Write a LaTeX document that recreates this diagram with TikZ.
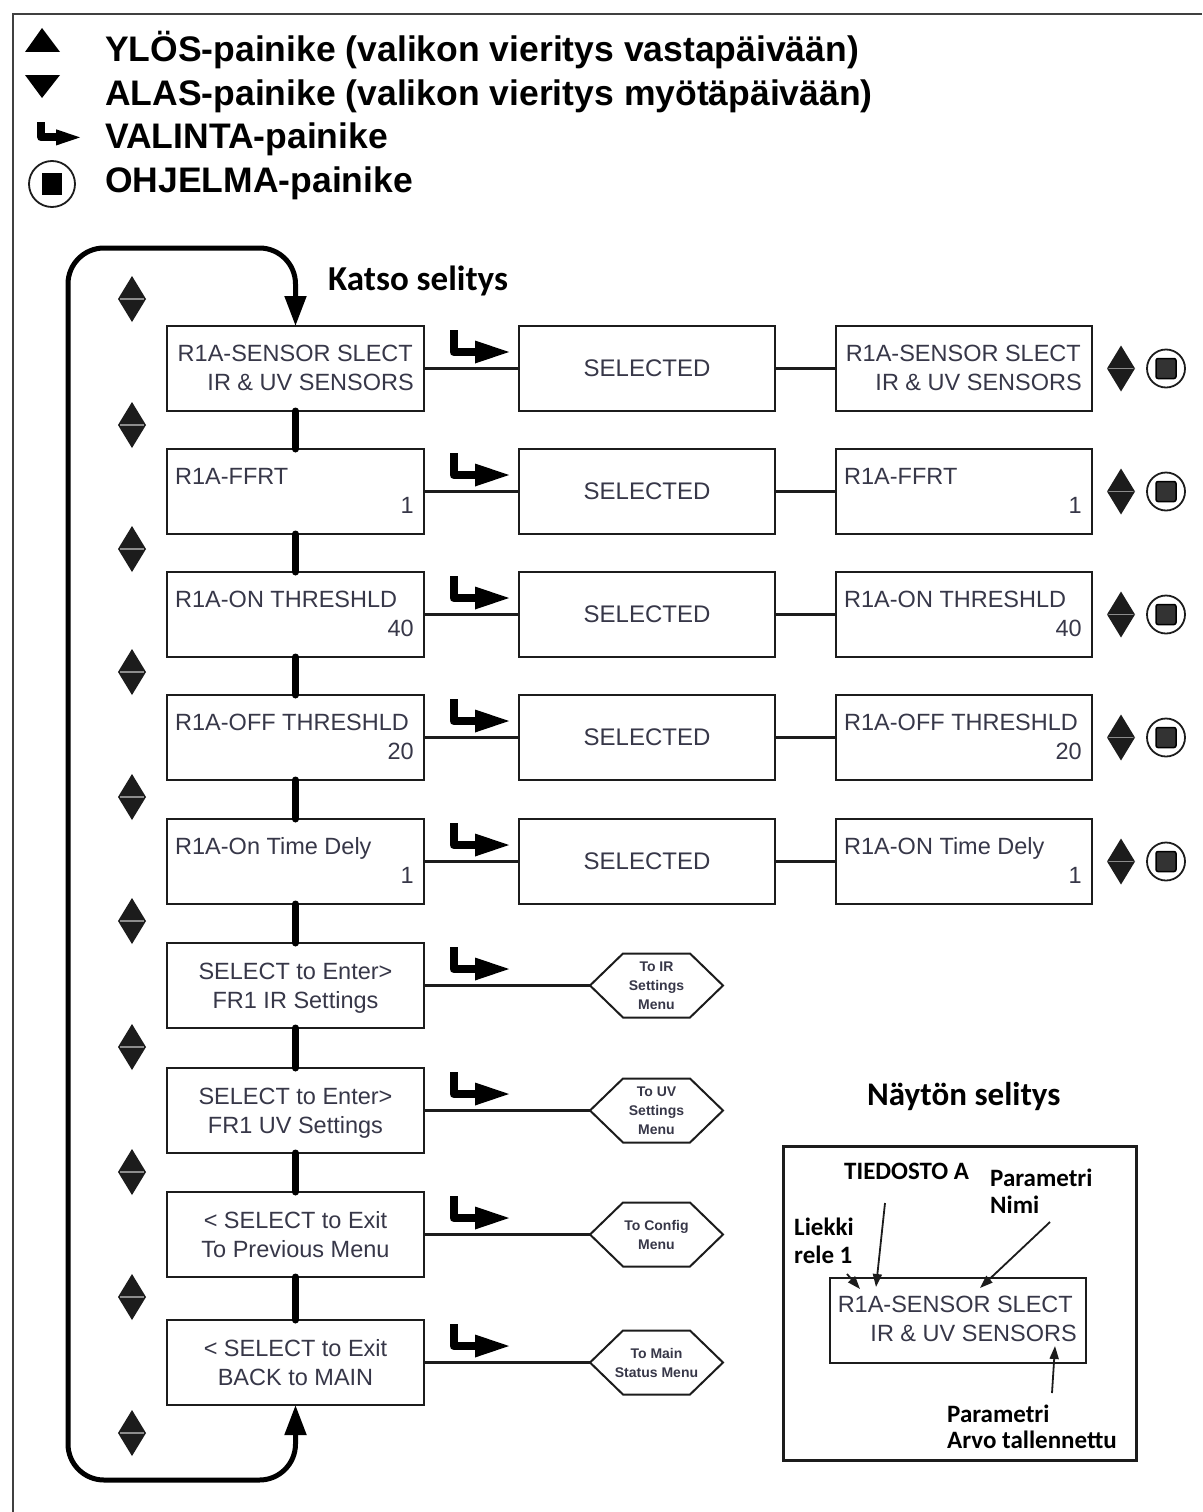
\documentclass[tikz,border=0pt]{standalone}
\usepackage{fontspec}
\setmainfont{Liberation Sans}
\newfontfamily\calib{Carlito}
\usetikzlibrary{arrows.meta,calc}
\definecolor{boxtxt}{RGB}{55,55,72}
\definecolor{ink}{RGB}{28,28,28}

\begin{document}
\begin{tikzpicture}[x=1pt,y=-1pt,
  menubox/.style={draw=ink, line width=2pt, minimum width=257pt, minimum height=85pt,
    inner sep=0pt, outer sep=0pt, anchor=north west},
  boxtext/.style={inner sep=0pt, text=boxtxt, font=\fontsize{23.5}{27}\selectfont},
  legtext/.style={inner sep=0pt, anchor=base west, font=\bfseries\fontsize{35.5}{40}\selectfont},
  note/.style={inner sep=0pt, anchor=base west, font=\calib\bfseries\fontsize{25}{27}\selectfont},
  hexnode/.style={minimum width=133pt, minimum height=64pt, inner sep=0pt, outer sep=0pt,
    align=center, text=boxtxt, font=\bfseries\fontsize{14}{19}\selectfont},
  hexline/.style={draw=ink, line width=2pt, line join=miter},
  hlink/.style={draw=ink, line width=2.5pt},
  vlink/.style={draw=black, line width=7pt, line cap=round},
  loopline/.style={draw=black, line width=5pt, rounded corners=36pt,
    {Triangle[length=30pt,width=21pt]}-{Triangle[length=30pt,width=21pt]}},
  notearrow/.style={draw=ink, line width=1.8pt, -{Triangle[length=13pt,width=9pt]}},
  selkey/.pic={
    \draw[black, line width=8pt, line join=round] (4.5,0) -- (4.5,22) -- (28,22);
    \fill[black] (26,10.5) -- (60,22) -- (26,33.5) -- cycle;
  },
  updown/.pic={
    \fill[ink] (-14,0) -- (0,-23) -- (14,0) -- cycle;
    \fill[ink] (-14,0) -- (0,23) -- (14,0) -- cycle;
    \draw[black!45, line width=1.2pt] (-12,0) -- (12,0);
  },
  progkey/.pic={
    \draw[ink, line width=1.8pt] (0,0) circle[radius=19pt];
    \draw[black, line width=1.5pt, fill=black!80, rounded corners=2pt] (-10,-10) rectangle (10,10);
  }
]
\useasboundingbox (0,0) rectangle (1202,1512);

% outer frame
\draw[line width=2.5pt, black!75] (13,1512) -- (13,14) -- (1202,14);

% key to the buttons
\fill[black] (25,52) -- (42,28) -- (60,52) -- cycle;
\fill[black] (25,75) -- (60,75) -- (42,98) -- cycle;
\pic[scale=0.7] at (38,122) {selkey};
\draw[ink, line width=1.8pt] (52,184) circle[radius=23pt];
\fill[black] (42,173) rectangle (62,195);
\node[legtext] (kup) at (105,62) {YLÖS-painike (valikon vieritys vastapäivään)};
\node[legtext] (kdown) at (105,105) {ALAS-painike (valikon vieritys myötäpäivään)};
\node[legtext] (ksel) at (105,148) {VALINTA-painike};
\node[legtext] (kprog) at (105,192) {OHJELMA-painike};

\node[anchor=base west, inner sep=0pt, font=\calib\bfseries\fontsize{35}{40}\selectfont] (seeleg) at (328,290) {Katso selitys};

% menu boxes, left column
\foreach \i/\t in {1/326,2/449,3/572,4/695,5/819,6/943,7/1068,8/1192,9/1320} {
  \node[menubox] (L\i) at (167,\t) {};
  \pic at (449,\t+4) {selkey};
}
% selected and stored boxes
\foreach \i/\t in {1/326,2/449,3/572,4/695,5/819} {
  \node[menubox, minimum width=256pt, text=boxtxt, font=\fontsize{24}{28}\selectfont] (M\i) at (519,\t) {SELECTED};
  \node[menubox, minimum width=256pt] (R\i) at (836,\t) {};
  \draw[hlink] (L\i.east) -- (M\i.west);
  \draw[hlink] (M\i.east) -- (R\i.west);
  \pic at ($(R\i.east)+(29,0)$) {updown};
  \pic at ($(R\i.east)+(74,0)$) {progkey};
}

% texts of the first row
\node[boxtext, anchor=base east] (L1a) at ($(L1.north east)+(-11,35)$) {R1A-SENSOR SLECT};
\node[boxtext, anchor=base east] (L1b) at ($(L1.north east)+(-10,64)$) {IR \& UV SENSORS};
\node[boxtext, anchor=base east] (R1a) at ($(R1.north east)+(-11,35)$) {R1A-SENSOR SLECT};
\node[boxtext, anchor=base east] (R1b) at ($(R1.north east)+(-10,64)$) {IR \& UV SENSORS};

% parameter rows
\foreach \i/\a/\c/\b in {2/{R1A-FFRT}/{R1A-FFRT}/1, 3/{R1A-ON THRESHLD}/{R1A-ON THRESHLD}/40,
    4/{R1A-OFF THRESHLD}/{R1A-OFF THRESHLD}/20, 5/{R1A-On Time Dely}/{R1A-ON Time Dely}/1} {
  \node[boxtext, anchor=base west] (L\i a) at ($(L\i.north west)+(8,35)$) {\a};
  \node[boxtext, anchor=base east] (L\i b) at ($(L\i.north east)+(-10,64)$) {\b};
  \node[boxtext, anchor=base west] (R\i a) at ($(R\i.north west)+(8,35)$) {\c};
  \node[boxtext, anchor=base east] (R\i b) at ($(R\i.north east)+(-10,64)$) {\b};
}

% sub-menu rows with their target hexagons
\foreach \i/\a/\b/\h in {6/{SELECT to Enter>}/{FR1 IR Settings}/{To IR\\Settings\\Menu},
    7/{SELECT to Enter>}/{FR1 UV Settings}/{To UV\\Settings\\Menu},
    8/{< SELECT to Exit}/{To Previous Menu}/{To Config\\Menu},
    9/{< SELECT to Exit}/{BACK to MAIN}/{To Main\\Status Menu}} {
  \node[boxtext, anchor=base] (L\i a) at ($(L\i.north)+(0,36)$) {\a};
  \node[boxtext, anchor=base] (L\i b) at ($(L\i.north)+(0,65)$) {\b};
  \node[hexnode, anchor=west] (H\i) at ($(L\i.east)+(166,0)$) {\h};
  \draw[hexline] (H\i.west) -- ($(H\i.north west)+(33,0)$) -- ($(H\i.north east)+(-33,0)$)
    -- (H\i.east) -- ($(H\i.south east)+(-33,0)$) -- ($(H\i.south west)+(33,0)$) -- cycle;
  \draw[hlink] (L\i.east) -- (H\i.west);
}

% links between the menu entries
\foreach \i [evaluate=\i as \j using int(\i+1)] in {1,...,8} {
  \draw[vlink] (L\i.south) -- (L\j.north);
}

% scroll buttons along the menu loop
\foreach \y in {299,425,549,672,797,921,1047,1172,1297,1433} {
  \pic at (132,\y) {updown};
}

% wrap-around loop
\coordinate (cornBL) at (68,1480);
\coordinate (cornTL) at (68,248);
\draw[loopline] (L9.south) |- (cornBL) -- (cornTL) -| (L1.north);

% display legend
\node[anchor=base west, inner sep=0pt, font=\calib\bfseries\fontsize{33}{38}\selectfont] (disptitle) at (867,1105) {Näytön selitys};
\node[draw=ink, line width=2.5pt, anchor=north west, minimum width=353pt, minimum height=314pt, inner sep=0pt] (legbox) at (782,1145) {};
\node[draw=ink, line width=2pt, anchor=north west, minimum width=256pt, minimum height=85pt, inner sep=0pt] (dispbox) at (829,1277) {};
\node[boxtext, anchor=base east] (dispa) at (1073,1312) {R1A-SENSOR SLECT};
\node[boxtext, anchor=base east] (dispb) at (1077,1341) {IR \& UV SENSORS};

\node[note] (nfile) at (844,1179) {TIEDOSTO A};
\node[note] (nname1) at (990,1186) {Parametri};
\node[note] (nname2) at (990,1213) {Nimi};
\node[note] (nrelay1) at (794,1235) {Liekki};
\node[note] (nrelay2) at (794,1263) {rele 1};
\node[note] (nval1) at (947,1422) {Parametri};
\node[note] (nval2) at (947,1448) {Arvo tallennettu};

\coordinate (fileS) at (885,1203);
\coordinate (fileE) at (876,1287);
\coordinate (relS) at (847,1274);
\coordinate (relE) at (860,1289);
\coordinate (nameS) at (1050,1222);
\coordinate (nameE) at (980,1288);
\coordinate (valS) at (1052,1393);
\coordinate (valE) at (1055,1346);
\draw[notearrow] (fileS) -- (fileE);
\draw[notearrow] (relS) -- (relE);
\draw[notearrow] (nameS) -- (nameE);
\draw[notearrow] (valS) -- (valE);
\end{tikzpicture}
\end{document}
